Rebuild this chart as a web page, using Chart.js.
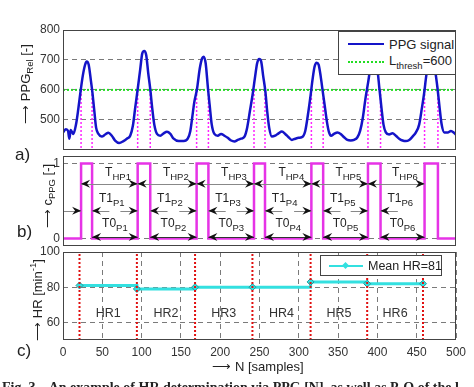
<!DOCTYPE html>
<html>
<head>
<meta charset="utf-8">
<script src="https://cdn.jsdelivr.net/npm/chart.js@4.4.1/dist/chart.umd.min.js"></script>
<style>
  body { margin: 0; width: 474px; height: 387px; overflow: hidden; background: #fff; position: relative;
         font-family: 'Liberation Sans', Arial, sans-serif; color: #222; }
  canvas { position: absolute; left: 0; }
  .txt { position: absolute; white-space: nowrap; line-height: 1; }
  .ytitle { position: absolute; white-space: nowrap; line-height: 1; font-size: 13px;
            transform: translate(-50%, -50%) rotate(-90deg); }
  sub, sup { font-size: 9.5px; line-height: 0; }
  .legend { position: absolute; background: #fff; border: 1px solid #444; box-sizing: border-box; }
  .legend .item { position: absolute; white-space: nowrap; line-height: 1; font-size: 13px; }
  .legend .sample { position: absolute; height: 0; }
</style>
</head>
<body>
<canvas id="ppgCanvas" width="474" height="160" style="top:0px"></canvas>
<canvas id="pulseCanvas" width="474" height="120" style="top:140px"></canvas>
<canvas id="hrCanvas" width="474" height="152" style="top:235px"></canvas>

<div class="ytitle" style="left:25px; top:84px">&#x27F6; PPG<sub>Rel</sub> [-]</div>
<div class="ytitle" style="left:47px; top:196px">&#x27F6; c<sub>PPG</sub> [-]</div>
<div class="ytitle" style="left:37px; top:300px">&#x27F6; HR [min<sup>-1</sup>]</div>

<div class="txt" style="left:15px; top:146px; font-size:17px">a)</div>
<div class="txt" style="left:17px; top:223px; font-size:17px">b)</div>
<div class="txt" style="left:17px; top:342px; font-size:17px">c)</div>

<div class="txt" style="left:258px; top:360px; font-size:13px; transform:translateX(-50%)">&#x27F6; N [samples]</div>

<div class="txt" style="left:2px; top:381px; font-size:14px; font-weight:bold; font-family:'Liberation Serif', serif">Fig. 3.&nbsp;&nbsp; An example of HR determination via PPG [N], as well as P-Q of the l</div>

<div class="legend" style="left:338px; top:31px; width:118px; height:44px">
  <div class="sample" style="left:9px; top:11px; width:36px; border-top:2.5px solid #1414c8"></div>
  <div class="item" style="left:50px; top:6px">PPG signal</div>
  <div class="sample" style="left:9px; top:29px; width:36px; border-top:2px dotted #22dd22"></div>
  <div class="item" style="left:50px; top:22px">L<sub>thresh</sub>=600</div>
</div>

<div class="legend" style="left:320px; top:255px; width:122px; height:21px">
  <div class="sample" style="left:8px; top:9px; width:34px; border-top:2.5px solid #33e0e0"></div>
  <div class="sample" style="left:22px; top:7px; width:5px; height:5px; background:#33e0e0; transform:rotate(45deg)"></div>
  <div class="item" style="left:47px; top:4px; font-size:12.5px">Mean HR=81</div>
</div>

<script>
// PPG signal read from panel a)
const ppgN = [0, 3.8, 6.4, 8.1, 9.8, 13.2, 16.6, 19.6, 22.5, 25.1, 28.1, 30.2, 32.7, 35.3, 37.4, 39.9,
  42.1, 45.1, 49.3, 53.6, 57.8, 62.1, 66.3, 71.4, 76.9, 81.2, 85.5, 88.9, 91.8, 94.8, 98.2, 100.8,
  103.3, 105.9, 108.4, 111, 113.5, 116.1, 119.6, 123.8, 128.1, 132.3, 136.6, 140.8, 147.2, 153.6,
  158.7, 162, 164.5, 167.1, 170.5, 173.9, 176.9, 179, 181.5, 184.5, 186.6, 189.2, 192.6, 196.9,
  201.1, 205.4, 209.6, 213.9, 218.1, 222.4, 226.6, 230.9, 234.3, 237.7, 241.1, 244.5, 247, 249.6,
  252.1, 254.7, 257.6, 259.8, 262.3, 265.7, 269.9, 274.2, 278.5, 282.7, 287, 291.2, 295.5, 299.7,
  304, 308.2, 311.6, 315, 317.5, 320.1, 322.7, 325.2, 327.8, 330.4, 332.9, 336, 338.5, 341, 344.8,
  349.1, 353.3, 357.6, 361.8, 366.1, 370.3, 374.6, 378, 381.4, 384.8, 388.2, 390.7, 394, 397, 400.1,
  402.6, 405.2, 407.7, 410.7, 414.9, 419.2, 423.5, 427.7, 432, 436.2, 440.5, 444.7, 449, 453.2,
  456.6, 459.6, 462.1, 466, 469, 472, 474.5, 476.6, 479.2, 481.7, 485.1, 489.4, 493.6, 497, 500]
const ppgValue = [458, 469, 463, 437, 466, 453, 485, 539, 598, 646, 684, 695, 684, 635, 592, 528,
  474, 453, 444, 451, 457, 447, 431, 423, 429, 437, 447, 480, 539, 598, 668, 721,
  730, 716, 657, 603, 539, 485, 453, 447, 455, 460, 453, 437, 429, 429,
  437, 463, 510, 560, 603, 670, 705, 711, 689, 603, 549, 485, 453, 447,
  453, 447, 440, 431, 428, 433, 437, 444, 474, 528, 582, 646, 689, 703,
  695, 646, 592, 528, 474, 444, 447, 455, 461, 453, 442, 433, 437, 440,
  442, 463, 517, 582, 635, 678, 691, 684, 646, 596, 549, 490, 458, 447, 453,
  458, 453, 442, 433, 431, 433, 442, 463, 506, 571, 625, 668, 705, 715, 668,
  603, 539, 485, 458, 451, 455, 447, 437, 431, 429, 433, 444, 458, 485,
  539, 592, 646, 705, 715, 690, 646, 603, 539, 485, 458, 458, 463, 458, 450]
const threshold = 600

// threshold crossings (rising / falling) -> pulses of c_PPG
const rises = [23, 95, 170, 243, 316, 388, 460]
const falls = [37, 111, 185, 257, 331, 404, 477]

// beats and heart rate in panel c)
const beats = [21, 94, 168, 241, 315, 387, 458]
const heartRate = [81, 79, 80, 80, 83, 82]
const hrLabels = ['HR1', 'HR2', 'HR3', 'HR4', 'HR5', 'HR6']

const ppgTicks = [500, 600, 700, 800]
const pulseTicks = [0, 1]
const hrTicks = [60, 80, 100]

const FONT = "'Liberation Sans', Arial, sans-serif"
const tickFont = { family: FONT, size: 12 }
const gridColor = '#7a7a7a'

const frameBox = {
  id: 'frameBox',
  afterDatasetsDraw(chart) {
    const { ctx, chartArea: a } = chart
    ctx.save()
    ctx.strokeStyle = '#444'
    ctx.lineWidth = 1
    ctx.strokeRect(Math.round(a.left) + 0.5, Math.round(a.top) + 0.5,
      Math.round(a.right - a.left) - 1, Math.round(a.bottom - a.top) - 1)
    ctx.restore()
  },
}

const xScale = (showTicks) => {
  const scale = {
    type: 'linear',
    min: 0,
    max: 500,
    display: showTicks,
    ticks: { stepSize: 50, font: tickFont, color: '#333', padding: 5, maxRotation: 0 },
    grid: { color: gridColor, drawTicks: false },
    border: { display: false, dash: [5, 4] },
  }
  if (showTicks) scale.afterFit = (s) => { s.height = 47 }
  return scale
}

const yScale = (min, max, tickList) => ({
  type: 'linear',
  min,
  max,
  afterBuildTicks: (s) => { s.ticks = tickList.map((value) => ({ value })) },
  ticks: { font: tickFont, color: '#333', padding: 3 },
  grid: { color: gridColor, drawTicks: false },
  border: { display: false, dash: [5, 4] },
  afterFit: (s) => { s.width = 63 },
})

const baseOptions = (padding, scales) => ({
  responsive: false,
  animation: false,
  events: [],
  layout: { padding },
  plugins: { legend: { display: false }, tooltip: { enabled: false } },
  scales,
})

const verticalLines = (xs, y0, y1) => {
  const pts = []
  xs.forEach((x) => {
    pts.push({ x, y: y0 }, { x, y: y1 }, { x, y: null })
  })
  return pts
}

// a) PPG signal
const ppgChart = new Chart(document.getElementById('ppgCanvas'), {
  type: 'line',
  data: {
    datasets: [
      {
        data: ppgN.map((x, i) => ({ x, y: ppgValue[i] })),
        borderColor: '#1414c8',
        borderWidth: 2.5,
        pointRadius: 0,
        cubicInterpolationMode: 'monotone',
      },
      {
        data: [{ x: 0, y: threshold }, { x: 500, y: threshold }],
        borderColor: '#22dd22',
        borderWidth: 2,
        borderDash: [2, 2],
        pointRadius: 0,
      },
      {
        data: verticalLines(rises.concat(falls), threshold, 400),
        borderColor: '#ff22ff',
        borderWidth: 1.5,
        borderDash: [2, 2],
        pointRadius: 0,
      },
    ],
  },
  options: baseOptions({ top: 30, right: 18, bottom: 5, left: 0 }, {
    x: xScale(false),
    y: yScale(400, 800, ppgTicks),
  }),
  plugins: [frameBox],
})

// b) pulse signal with interval annotations
const pulsePoints = () => {
  const pts = [{ x: 0, y: 0 }]
  rises.forEach((r, i) => {
    pts.push({ x: r, y: 0 }, { x: r, y: 1 }, { x: falls[i], y: 1 }, { x: falls[i], y: 0 })
  })
  pts.push({ x: 500, y: 0 })
  return pts
}

const arrowHead = (ctx, x, y, dir) => {
  ctx.beginPath()
  ctx.moveTo(x, y)
  ctx.lineTo(x - dir * 9, y - 4)
  ctx.lineTo(x - dir * 6, y)
  ctx.lineTo(x - dir * 9, y + 4)
  ctx.closePath()
  ctx.fill()
}

const hLine = (ctx, x0, x1, y, color) => {
  ctx.strokeStyle = color
  ctx.lineWidth = 1
  ctx.beginPath()
  ctx.moveTo(x0, Math.round(y) + 0.5)
  ctx.lineTo(x1, Math.round(y) + 0.5)
  ctx.stroke()
}

const subLabel = (ctx, x, y, base, sub) => {
  const big = `12px ${FONT}`
  const small = `9.5px ${FONT}`
  ctx.font = big
  const w1 = ctx.measureText(base).width
  ctx.font = small
  const w2 = ctx.measureText(sub).width
  const left = x - (w1 + w2) / 2
  ctx.fillStyle = '#222'
  ctx.font = big
  ctx.fillText(base, left, y)
  ctx.font = small
  ctx.fillText(sub, left + w1, y + 4)
}

const pulseNotes = {
  id: 'pulseNotes',
  afterDatasetsDraw(chart) {
    const { ctx } = chart
    const px = (v) => chart.scales.x.getPixelForValue(v)
    const py = (v) => chart.scales.y.getPixelForValue(v)
    const tail = 22
    ctx.save()
    ctx.textBaseline = 'alphabetic'
    for (let i = 0; i < 6; i++) {
      const n = i + 1
      // T_HP: rise to next rise
      hLine(ctx, px(rises[i]), px(rises[i + 1]), py(0.73), '#888')
      ctx.fillStyle = '#111'
      arrowHead(ctx, px(rises[i]), py(0.73), -1)
      arrowHead(ctx, px(rises[i + 1]), py(0.73), 1)
      subLabel(ctx, px((rises[i] + rises[i + 1]) / 2 + 11), py(0.83), 'T', 'HP' + n)

      // T1: pulse width, arrows pointing inward
      hLine(ctx, px(rises[i] - tail), px(rises[i]), py(0.37), '#888')
      hLine(ctx, px(falls[i]), px(falls[i] + tail), py(0.37), '#888')
      ctx.fillStyle = '#111'
      arrowHead(ctx, px(rises[i]), py(0.37), 1)
      arrowHead(ctx, px(falls[i]), py(0.37), -1)
      subLabel(ctx, px(falls[i] + 25), py(0.49), 'T1', 'P' + n)

      // T0: fall to next rise
      hLine(ctx, px(falls[i]), px(rises[i + 1]), py(0.02), '#333')
      ctx.fillStyle = '#111'
      arrowHead(ctx, px(falls[i]), py(0.02), -1)
      arrowHead(ctx, px(rises[i + 1]), py(0.02), 1)
      subLabel(ctx, px((falls[i] + rises[i + 1]) / 2), py(0.15), 'T0', 'P' + n)
    }
    ctx.restore()
  },
}

const pulseChart = new Chart(document.getElementById('pulseCanvas'), {
  type: 'line',
  data: {
    datasets: [
      {
        data: pulsePoints(),
        borderColor: '#e633e6',
        borderWidth: 2.5,
        pointRadius: 0,
      },
    ],
  },
  options: baseOptions({ top: 16, right: 18, bottom: 14, left: 0 }, {
    x: xScale(false),
    y: yScale(-0.1, 1.1, pulseTicks),
  }),
  plugins: [pulseNotes, frameBox],
})

// c) heart rate
const hrNotes = {
  id: 'hrNotes',
  afterDatasetsDraw(chart) {
    const { ctx } = chart
    ctx.save()
    ctx.font = `12.5px ${FONT}`
    ctx.fillStyle = '#333'
    ctx.textAlign = 'center'
    ctx.textBaseline = 'middle'
    hrLabels.forEach((label, i) => {
      const x = chart.scales.x.getPixelForValue((beats[i] + beats[i + 1]) / 2)
      ctx.fillText(label, x, chart.scales.y.getPixelForValue(65))
    })
    ctx.restore()
  },
}

const hrChart = new Chart(document.getElementById('hrCanvas'), {
  type: 'line',
  data: {
    datasets: [
      {
        data: verticalLines(beats, 50, 100),
        borderColor: '#e01010',
        borderWidth: 2,
        borderDash: [2, 2],
        pointRadius: 0,
      },
      {
        data: beats.map((x, i) => ({ x, y: heartRate[Math.min(i, heartRate.length - 1)] })),
        borderColor: '#33e0e0',
        borderWidth: 3,
        stepped: 'before',
        pointStyle: 'rectRot',
        pointRadius: 3.5,
        pointBackgroundColor: '#33e0e0',
        pointBorderColor: '#1c9c9c',
        pointBorderWidth: 1,
      },
    ],
  },
  options: baseOptions({ top: 17, right: 18, bottom: 0, left: 0 }, {
    x: xScale(true),
    y: yScale(50, 100, hrTicks),
  }),
  plugins: [hrNotes, frameBox],
})
</script>
</body>
</html>
